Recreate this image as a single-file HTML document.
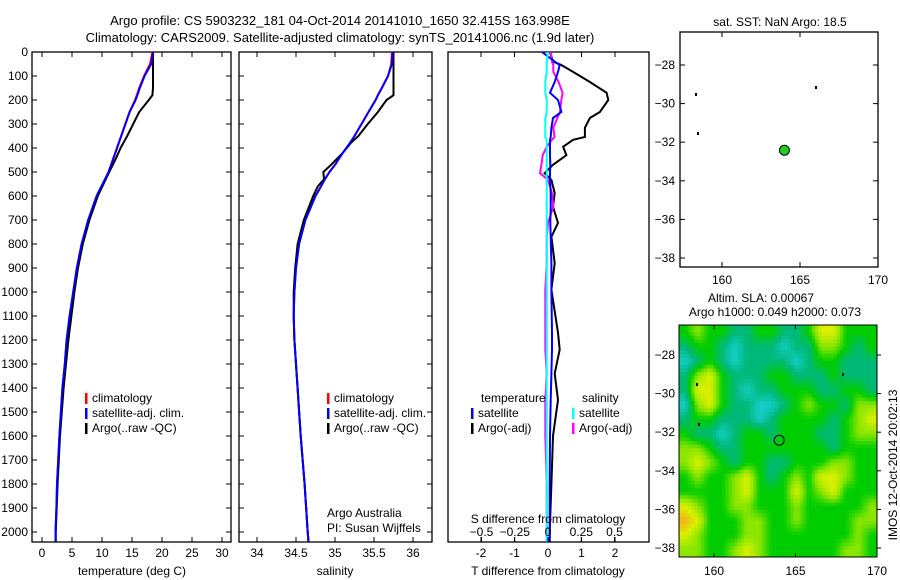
<!DOCTYPE html>
<html><head><meta charset="utf-8"><style>
body{margin:0;background:#fff;}
svg{display:block;font-family:"Liberation Sans",sans-serif;font-size:12px;}
</style></head><body>
<svg id="c" width="900" height="580" viewBox="0 0 900 580">
<text x="340" y="25" text-anchor="middle" font-size="13">Argo profile: CS 5903232_181 04-Oct-2014 20141010_1650 32.415S 163.998E</text>
<text x="340" y="42" text-anchor="middle" font-size="13">Climatology: CARS2009. Satellite-adjusted climatology: synTS_20141006.nc (1.9d later)</text>
<g id="g"></g>
</svg>
<script>
// ---- data ----
const depthT=[0,50,100,150,180,200,250,300,350,400,450,500,600,700,800,900,1000,1100,1200,1300,1400,1500,1600,1700,1800,1900,2000,2040];
const tempArgo=[18.5,18.5,18.5,18.5,18.4,17.8,16.2,15.2,14.2,13.1,12.2,11.2,9.3,7.9,6.8,6.0,5.4,4.9,4.4,4.0,3.6,3.3,3.0,2.8,2.6,2.45,2.3,2.3];
const tempClim=[18.4,18.0,17.0,16.2,15.8,15.5,14.6,13.9,13.2,12.5,11.8,11.1,9.1,7.7,6.6,5.8,5.2,4.6,4.1,3.8,3.4,3.15,2.9,2.7,2.5,2.4,2.25,2.25];
const tempSat=[18.5,18.2,17.1,16.3,15.9,15.6,14.6,13.9,13.2,12.5,11.8,11.1,9.1,7.7,6.6,5.8,5.2,4.6,4.1,3.8,3.4,3.15,2.9,2.7,2.5,2.4,2.25,2.25];
const depthS=[0,50,100,150,180,200,250,300,350,380,420,470,500,530,560,600,700,800,900,1000,1100,1200,1300,1400,1600,1800,2000,2040];
const salArgo=[35.75,35.75,35.75,35.75,35.75,35.66,35.55,35.42,35.3,35.2,35.1,34.95,34.85,34.86,34.78,34.72,34.6,34.52,34.49,34.47,34.47,34.48,34.5,34.52,34.56,34.61,34.65,34.66];
const salClim=[35.73,35.72,35.68,35.6,35.55,35.52,35.43,35.34,35.25,35.19,35.1,35.0,34.93,34.87,34.82,34.75,34.62,34.54,34.5,34.48,34.47,34.48,34.5,34.52,34.56,34.61,34.65,34.66];
const salSat=[35.74,35.73,35.68,35.6,35.55,35.52,35.43,35.34,35.25,35.19,35.1,35.0,34.93,34.87,34.82,34.75,34.62,34.54,34.5,34.48,34.47,34.48,34.5,34.52,34.56,34.61,34.65,34.66];
const depthD=[0,40,54,83,125,170,200,250,275,316,354,366,395,430,470,505,533,588,645,712,770,880,990,1170,1240,1340,1450,1600,1800,2000,2040];
const tDiffArgo=[0.06,0.15,0.4,0.75,1.25,1.75,1.8,1.55,1.25,1.1,1.1,0.75,0.45,0.55,0.15,-0.1,0.1,0.2,0.15,0.3,0.1,0.2,0.1,0.3,0.35,0.2,0.3,0.15,0.1,0.05,0.05];
const tDiffSat=[-0.18,0.2,0.35,0.3,0.2,0.06,0.3,0.4,0.15,0.1,0.08,0.06,0.06,0.06,0.07,0.06,0.06,0.08,0.08,0.07,0.08,0.1,0.1,0.12,0.12,0.1,0.08,0.06,0.05,0.05,0.05];
const sDiffArgo=[0.02,0.03,0.04,0.04,0.08,0.11,0.1,0.09,0.07,0.04,0.05,0.03,-0.01,-0.04,-0.05,-0.06,0,0.03,0.04,0.0,-0.01,-0.01,-0.02,-0.02,-0.02,-0.01,-0.02,-0.02,-0.01,-0.01,-0.01];
const sDiffSat=[0.0,-0.01,-0.01,-0.01,-0.02,-0.02,-0.01,-0.01,-0.02,-0.02,-0.02,-0.01,-0.01,-0.01,-0.01,-0.01,-0.01,-0.01,-0.01,-0.01,-0.01,-0.01,-0.01,-0.01,-0.01,-0.01,-0.01,-0.01,-0.01,-0.01,-0.01];
const depthTicks=[0,100,200,300,400,500,600,700,800,900,1000,1100,1200,1300,1400,1500,1600,1700,1800,1900,2000];
const tempTicks=[0,5,10,15,20,25,30];
const salTicks=[34,34.5,35,35.5,36];
const tdTicks=[-2,-1,0,1,2];
const sdTicks=[-0.5,-0.25,0,0.25,0.5];
const lonTicks=[160,165,170];
const latTicks=[-28,-30,-32,-34,-36,-38];
const sla=[
[0,1,0,0,-1,-1,0,0,-1,-1,0,2,2,0,0,0],
[-1,0,0,-1,-2,-1,-1,-1,-2,-1,-1,1,1,0,-1,0],
[-2,-1,0,-1,-2,-1,-1,-1,-1,-2,-1,0,0,-1,-1,-1],
[-1,1,2,0,-1,-1,-1,0,0,-1,-1,-1,0,-1,-1,-1],
[-1,2,2,0,-1,-2,-1,-1,0,0,0,-1,-1,0,0,-1],
[-2,1,2,0,-1,-1,-2,-2,-1,0,1,0,0,-1,1,1],
[-1,0,0,-1,-1,-1,-2,-1,0,0,0,0,-1,0,1,2],
[0,-1,-1,-2,-1,0,0,-1,0,0,0,-1,-1,0,1,1],
[1,1,0,-1,-1,0,0,0,0,0,0,0,-1,0,0,0],
[1,2,1,0,-1,0,0,-1,-1,0,0,0,1,1,0,0],
[0,1,0,0,1,2,0,-1,0,1,0,2,2,1,0,0],
[0,0,0,0,1,2,0,0,0,2,0,1,2,0,0,0],
[2,1,0,0,1,1,0,0,0,1,0,0,0,0,0,1],
[3,2,0,0,0,1,1,0,0,1,0,0,0,0,1,1],
[2,1,0,0,0,1,1,0,0,0,0,0,0,0,1,0],
[1,1,0,0,1,2,1,0,0,0,0,0,0,1,1,0]];
const argoLon=164.0, argoLat=-32.415;

// ---- drawing ----
const NS="http://www.w3.org/2000/svg";const G=document.getElementById('g');
function el(t,a,p){const e=document.createElementNS(NS,t);for(const k in a)e.setAttribute(k,a[k]);(p||G).appendChild(e);return e;}
const yD=d=>52+d*0.24;
function panel(x0,x1,name){const r=el('rect',{x:x0,y:52,width:x1-x0,height:490,fill:'none',stroke:'#000','stroke-width':1.3});

}
function line(xs,ds,sx,col,name,w){const pts=xs.map((v,i)=>sx(v).toFixed(1)+','+yD(ds[i]).toFixed(1)).join(' ');
const p=el('polyline',{points:pts,fill:'none',stroke:col,'stroke-width':w||2});

}
function xticks(ticks,sx,y,name){ticks.forEach(t=>{const x=sx(t);
el('line',{x1:x,x2:x,y1:y,y2:y-5,stroke:'#000'});
el('line',{x1:x,x2:x,y1:52,y2:57,stroke:'#000'});
const tx=el('text',{x:x,y:y+15,'text-anchor':'middle'});tx.textContent=t;

});}
function txt(x,y,s,name,anchor,extra){const t=el('text',Object.assign({x:x,y:y,'text-anchor':anchor||'start'},extra||{}));t.textContent=s;

return t;}
function legend(x,y,items){items.forEach((it,i)=>{el('rect',{x:x,y:y+i*15-9,width:2.5,height:11,fill:it[1]});txt(x+7,y+i*15,it[0],'legend-entry');});}

// Panel 1 temperature
const sxT=v=>42+v*6;
panel(32,231,'temperature-panel');
depthTicks.forEach(d=>{el('line',{x1:32,x2:37,y1:yD(d),y2:yD(d),stroke:'#000'});el('line',{x1:226,x2:231,y1:yD(d),y2:yD(d),stroke:'#000'});txt(28,yD(d)+4,String(d),'depth-tick-label','end');});
xticks(tempTicks,sxT,542,'temp-tick-label');
txt(132,575,'temperature (deg C)','x-axis-title-temperature','middle');
line(tempClim,depthT,sxT,'#f00','temp-climatology');
line(tempArgo,depthT,sxT,'#000','temp-argo');
line(tempSat,depthT,sxT,'#00f','temp-satellite-clim');
legend(85,402,[['climatology','#f00'],['satellite-adj. clim.','#00f'],['Argo(..raw -QC)','#000']]);

// Panel 2 salinity
const sxS=v=>257+(v-34)*78;
panel(239,432,'salinity-panel');
depthTicks.forEach(d=>{el('line',{x1:239,x2:244,y1:yD(d),y2:yD(d),stroke:'#000'});el('line',{x1:427,x2:432,y1:yD(d),y2:yD(d),stroke:'#000'});});
xticks(salTicks,sxS,542,'salinity-tick-label');
txt(335,575,'salinity','x-axis-title-salinity','middle');
line(salClim,depthS,sxS,'#f00','sal-climatology');
line(salArgo,depthS,sxS,'#000','sal-argo');
line(salSat,depthS,sxS,'#00f','sal-satellite-clim');
legend(327,402,[['climatology','#f00'],['satellite-adj. clim.','#00f'],['Argo(..raw -QC)','#000']]);
txt(327,517,'Argo Australia','credit-line-1');
txt(327,532,'PI: Susan Wijffels','credit-line-2');

// Panel 3 differences
const sxTD=v=>548+v*33.5, sxSD=v=>548+v*133;
panel(448,649,'difference-panel');
xticks(tdTicks,sxTD,542,'tdiff-tick-label');
line(tDiffArgo,depthD,sxTD,'#000','tdiff-argo');
line(sDiffArgo,depthD,sxSD,'#f0f','sdiff-argo');
line(tDiffSat,depthD,sxTD,'#00f','tdiff-satellite');
line(sDiffSat,depthD,sxSD,'#0ff','sdiff-satellite');
sdTicks.forEach(t=>{const x=sxSD(t);el('line',{x1:x,x2:x,y1:542,y2:537,stroke:'#000'});txt(x,536,t===0?'0':String(t).replace('-','−'),'sdiff-tick-label','middle');});
txt(548,523,'S difference from climatology','x-axis-title-sdiff','middle');
txt(548,575,'T difference from climatology','x-axis-title-tdiff','middle');
txt(481,402,'temperature','legend-title-temperature');
txt(582,402,'salinity','legend-title-salinity');
legend(471,417,[['satellite','#00f'],['Argo(-adj)','#000']]);
legend(572,417,[['satellite','#0ff'],['Argo(-adj)','#f0f']]);

// Map 1
const lx1=v=>722+(v-160)*15.6, ly1=v=>65+(-28-v)*19.3;
el('rect',{x:680,y:32,width:198,height:235,fill:'none',stroke:'#000','stroke-width':1.3});
lonTicks.forEach(t=>{el('line',{x1:lx1(t),x2:lx1(t),y1:267,y2:262,stroke:'#000'});el('line',{x1:lx1(t),x2:lx1(t),y1:32,y2:37,stroke:'#000'});txt(lx1(t),284,String(t),'map1-lon-label','middle');});
latTicks.forEach(t=>{el('line',{x1:680,x2:685,y1:ly1(t),y2:ly1(t),stroke:'#000'});el('line',{x1:873,x2:878,y1:ly1(t),y2:ly1(t),stroke:'#000'});txt(675,ly1(t)+4,String(t).replace('-','−'),'map1-lat-label','end');});
txt(780,26,'sat. SST: NaN Argo: 18.5','map1-title','middle');
const c1=el('circle',{cx:lx1(argoLon),cy:ly1(argoLat),r:5,fill:'#2c2',stroke:'#000'});


[[695,93],[697,132],[815,86]].forEach(p=>el('rect',{x:p[0],y:p[1],width:2,height:3,fill:'#000'}));

// Map 2 (bilinear-smoothed SLA field)
const X0=679,X1=877,Y0=325,Y1=557;
const lx2=v=>714+(v-160)*16.3, ly2=v=>355+(-28-v)*19.3;
function col(v){const stops=[[-2,[20,205,200]],[-1,[0,185,120]],[0,[0,205,0]],[1,[140,230,0]],[2,[220,240,0]],[3,[240,180,20]]];
if(v<=-2)return 'rgb(20,205,200)';
for(let i=0;i<stops.length-1;i++){if(v<=stops[i+1][0]){const f=(v-stops[i][0]);const a=stops[i][1],b=stops[i+1][1];return 'rgb('+a.map((c,j)=>Math.round(c+(b[j]-c)*f)).join(',')+')';}}return 'rgb(240,180,20)';}
const nr=sla.length,nc=sla[0].length,SUB=4;
const NX=nc*SUB,NY=nr*SUB,cw=(X1-X0)/NX,ch=(Y1-Y0)/NY;
function samp(fx,fy){fx=Math.max(0,Math.min(nc-1,fx));fy=Math.max(0,Math.min(nr-1,fy));
const i=Math.floor(fx),j=Math.floor(fy),i1=Math.min(nc-1,i+1),j1=Math.min(nr-1,j+1),u=fx-i,w=fy-j;
return (sla[j][i]*(1-u)+sla[j][i1]*u)*(1-w)+(sla[j1][i]*(1-u)+sla[j1][i1]*u)*w;}
const mg=el('g',{});
for(let r=0;r<NY;r++)for(let c=0;c<NX;c++){const v=samp((c+0.5)/SUB-0.5,(r+0.5)/SUB-0.5);
const cell=el('rect',{x:(X0+c*cw).toFixed(2),y:(Y0+r*ch).toFixed(2),width:(cw+0.4).toFixed(2),height:(ch+0.4).toFixed(2),fill:col(v)},mg);

}
el('rect',{x:X0,y:Y0,width:X1-X0,height:Y1-Y0,fill:'none',stroke:'#000','stroke-width':1});
lonTicks.forEach(t=>{el('line',{x1:lx2(t),x2:lx2(t),y1:Y1,y2:Y1-4,stroke:'#000'});el('line',{x1:lx2(t),x2:lx2(t),y1:Y0,y2:Y0+4,stroke:'#000'});txt(lx2(t),575,String(t),'map2-lon-label','middle');});
latTicks.forEach(t=>{el('line',{x1:X1,x2:X1+4,y1:ly2(t),y2:ly2(t),stroke:'#000'});txt(675,ly2(t)+4,String(t).replace('-','−'),'map2-lat-label','end');});
txt(761,302,'Altim. SLA: 0.00067','map2-title-1','middle');
txt(775,316,'Argo h1000: 0.049 h2000: 0.073','map2-title-2','middle');
const c2=el('circle',{cx:lx2(argoLon),cy:ly2(argoLat),r:5,fill:'none',stroke:'#000'});


[[696,383],[698,423],[842,373]].forEach(p=>el('rect',{x:p[0],y:p[1],width:2,height:3,fill:'#000'}));
txt(0,0,'IMOS 12-Oct-2014 20:02:13','imos-timestamp','middle',{transform:'translate(897,465) rotate(-90)'});
</script>
</body></html>
